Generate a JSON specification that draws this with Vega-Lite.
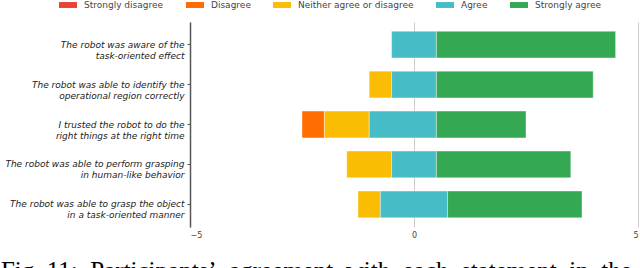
{
  "$schema": "https://vega.github.io/schema/vega-lite/v6.json",
  "width": 448,
  "height": 205,
  "autosize": {"type": "none"},
  "padding": {"left": 190, "top": 22, "right": 2, "bottom": 41},
  "config": {"font": "DejaVu Sans", "view": {"stroke": null}},
  "title": {
    "text": "Fig. 11:\u00a0 Participants’\u00a0 agreement\u00a0 with\u00a0 each\u00a0 statement\u00a0 in\u00a0 the",
    "orient": "bottom",
    "anchor": "start",
    "frame": "bounds",
    "font": "Liberation Serif",
    "fontSize": 25,
    "fontWeight": "normal",
    "color": "#000000",
    "offset": 20,
    "dx": -4
  },
  "data": {
    "values": [
      {"statement": "The robot was aware of the|task-oriented effect", "response": "Agree", "start": -0.5, "end": 0.5},
      {"statement": "The robot was aware of the|task-oriented effect", "response": "Strongly agree", "start": 0.5, "end": 4.5},
      {"statement": "The robot was able to identify the|operational region correctly", "response": "Neither agree or disagree", "start": -1, "end": -0.5},
      {"statement": "The robot was able to identify the|operational region correctly", "response": "Agree", "start": -0.5, "end": 0.5},
      {"statement": "The robot was able to identify the|operational region correctly", "response": "Strongly agree", "start": 0.5, "end": 4},
      {"statement": "I trusted the robot to do the|right things at the right time", "response": "Disagree", "start": -2.5, "end": -2},
      {"statement": "I trusted the robot to do the|right things at the right time", "response": "Neither agree or disagree", "start": -2, "end": -1},
      {"statement": "I trusted the robot to do the|right things at the right time", "response": "Agree", "start": -1, "end": 0.5},
      {"statement": "I trusted the robot to do the|right things at the right time", "response": "Strongly agree", "start": 0.5, "end": 2.5},
      {"statement": "The robot was able to perform grasping|in human-like behavior", "response": "Neither agree or disagree", "start": -1.5, "end": -0.5},
      {"statement": "The robot was able to perform grasping|in human-like behavior", "response": "Agree", "start": -0.5, "end": 0.5},
      {"statement": "The robot was able to perform grasping|in human-like behavior", "response": "Strongly agree", "start": 0.5, "end": 3.5},
      {"statement": "The robot was able to grasp the object|in a task-oriented manner", "response": "Neither agree or disagree", "start": -1.25, "end": -0.75},
      {"statement": "The robot was able to grasp the object|in a task-oriented manner", "response": "Agree", "start": -0.75, "end": 0.75},
      {"statement": "The robot was able to grasp the object|in a task-oriented manner", "response": "Strongly agree", "start": 0.75, "end": 3.75}
    ]
  },
  "mark": {"type": "bar", "stroke": "#ffffff", "strokeWidth": 1, "strokeOpacity": 0.4},
  "encoding": {
    "y": {
      "field": "statement",
      "type": "nominal",
      "sort": null,
      "scale": {"paddingInner": 0.33, "paddingOuter": 0.23},
      "axis": {
        "title": null,
        "labelExpr": "split(datum.label, '|')",
        "labelFont": "DejaVu Sans",
        "labelFontStyle": "italic",
        "labelFontSize": 9,
        "labelColor": "#222222",
        "labelLineHeight": 11,
        "labelLimit": 0,
        "labelPadding": 3,
        "domainColor": "#555555",
        "domainWidth": 1.5,
        "tickColor": "#555555",
        "tickSize": 3
      }
    },
    "x": {
      "field": "start",
      "type": "quantitative",
      "scale": {"domain": [-5, 5], "nice": false},
      "axis": {
        "title": null,
        "values": [-5, 0, 5],
        "labelFontSize": 8,
        "labelColor": "#444444",
        "domain": false,
        "ticks": false,
        "gridColor": "#cccccc",
        "labelPadding": 4
      }
    },
    "x2": {"field": "end"},
    "color": {
      "field": "response",
      "type": "nominal",
      "scale": {
        "domain": ["Strongly disagree", "Disagree", "Neither agree or disagree", "Agree", "Strongly agree"],
        "range": ["#ea4335", "#ff6d01", "#fbbc04", "#46bdc6", "#34a853"]
      },
      "legend": {
        "orient": "none",
        "legendX": -131,
        "legendY": -26,
        "direction": "horizontal",
        "columns": 5,
        "title": null,
        "symbolType": "M-1,-0.33H1V0.33H-1Z",
        "symbolSize": 324,
        "symbolStrokeWidth": 0,
        "labelFontSize": 9,
        "labelColor": "#444444",
        "labelOffset": 7,
        "columnPadding": 22
      }
    }
  }
}
